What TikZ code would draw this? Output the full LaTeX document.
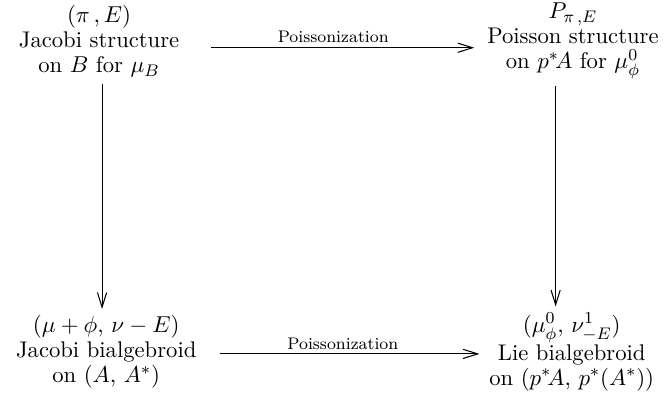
\documentclass[tikz,border=0pt]{standalone}
\usepackage{amsmath}
\usepackage{amssymb}
\usetikzlibrary{positioning, calc, arrows.meta}

\begin{document}
\begin{tikzpicture}[
    every node/.style={align=center, inner sep=3pt, font=\fontsize{10.8}{11.9}\selectfont},
    arr/.style={line width=0.5pt, -{Straight Barb[length=7pt,width=4.4pt]}},
    lbl/.style={above, inner sep=2pt, font=\fontsize{8}{9.6}\selectfont}]
  \useasboundingbox (0,0) rectangle (11.21,-6.62);
  % corners of the square
  \node (jacstr) at (1.66,-0.69) {$(\pi\,, E)$\\Jacobi structure\\on $B$ for $\mu_B$};
  \node (poisstr) at (9.60,-0.69) {$P_{\pi\,,E}$\\Poisson structure\\on $p^*\!A$ for $\mu^0_\phi$};
  \node (jacbi) at (1.78,-5.90) {$(\mu+\phi,\,\nu-E)$\\Jacobi bialgebroid\\on $(A,\,A^*)$};
  \node (liebi) at (9.58,-5.90) {$(\mu^0_\phi,\,\nu^1_{-E})$\\Lie bialgebroid\\on $(p^*\!A,\,p^*(A^*))$};
  % rows and columns of the arrows
  \coordinate (toprow) at (0,-0.80);
  \coordinate (botrow) at (0,-5.93);
  \coordinate (leftcol) at (1.71,0);
  \coordinate (rightcol) at (9.31,0);
  \draw[arr, shorten <=12pt, shorten >=3pt] (jacstr.east |- toprow) -- node[lbl] {Poissonization} (poisstr.west |- toprow);
  \draw[arr, shorten <=8pt, shorten >=1.5pt] (jacbi.east |- botrow) -- node[lbl] {Poissonization} (liebi.west |- botrow);
  \draw[arr] (jacstr.south -| leftcol) -- (jacbi.north -| leftcol);
  \draw[arr] (poisstr.south -| rightcol) -- (liebi.north -| rightcol);
\end{tikzpicture}
\end{document}
